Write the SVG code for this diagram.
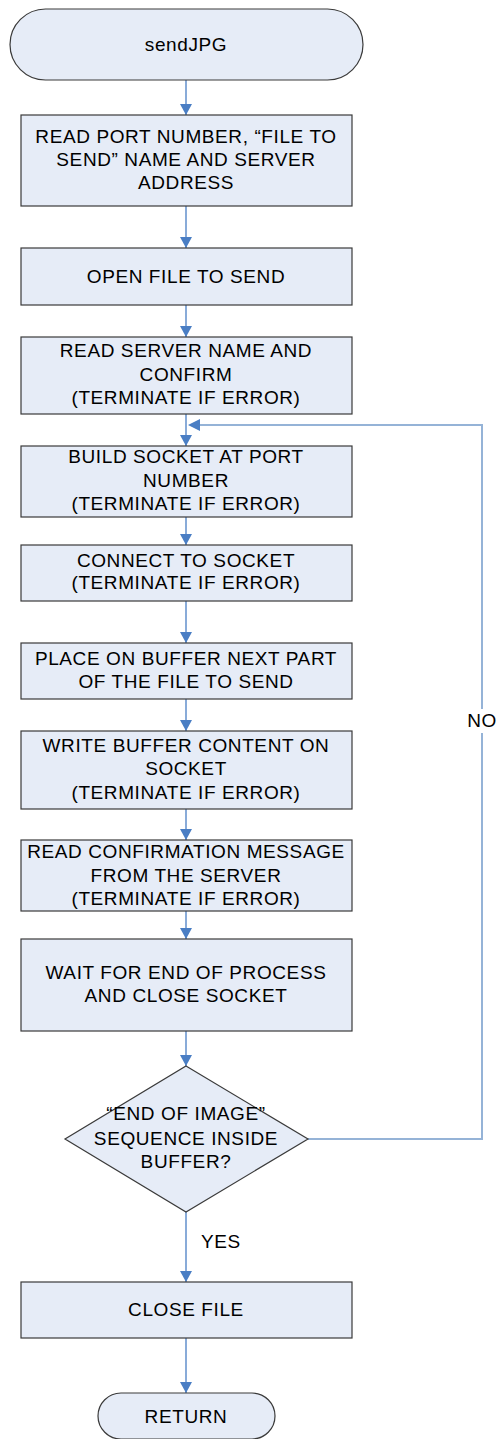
<svg xmlns="http://www.w3.org/2000/svg" width="498" height="1439" viewBox="0 0 498 1439">
  <defs>
    <style>
      .shape { fill: #E6ECF7; stroke: #3A3A3A; stroke-width: 1.2; }
      .label { font-family: "Liberation Sans", Arial, sans-serif; font-size: 19px; letter-spacing: 0.6px; fill: #000; text-anchor: middle; }
      .flow { stroke: #4A7EC4; stroke-width: 1.3; fill: none; }
      .loop { stroke: #95B3D7; stroke-width: 2; fill: none; }
      .head { fill: #4A7EC4; }
    </style>
    <marker id="arrow" markerWidth="12" markerHeight="12" refX="11" refY="6" orient="auto" markerUnits="userSpaceOnUse">
      <path d="M0,0 L11,6 L0,12 Z" class="head"/>
    </marker>
  </defs>
  <rect width="498" height="1439" fill="#FFFFFF"/>

  <!-- connectors -->
  <g id="connectors">
    <line class="flow" x1="186" y1="80" x2="186" y2="115" marker-end="url(#arrow)"/>
    <line class="flow" x1="186" y1="206" x2="186" y2="248" marker-end="url(#arrow)"/>
    <line class="flow" x1="186" y1="305" x2="186" y2="337" marker-end="url(#arrow)"/>
    <line class="flow" x1="186" y1="414" x2="186" y2="446" marker-end="url(#arrow)"/>
    <line class="flow" x1="186" y1="517" x2="186" y2="545" marker-end="url(#arrow)"/>
    <line class="flow" x1="186" y1="601" x2="186" y2="643" marker-end="url(#arrow)"/>
    <line class="flow" x1="186" y1="699" x2="186" y2="731" marker-end="url(#arrow)"/>
    <line class="flow" x1="186" y1="809" x2="186" y2="840" marker-end="url(#arrow)"/>
    <line class="flow" x1="186" y1="911" x2="186" y2="939" marker-end="url(#arrow)"/>
    <line class="flow" x1="186" y1="1031" x2="186" y2="1066" marker-end="url(#arrow)"/>
    <line class="flow" x1="186" y1="1212" x2="186" y2="1282" marker-end="url(#arrow)"/>
    <line class="flow" x1="186" y1="1338" x2="186" y2="1393" marker-end="url(#arrow)"/>
    <!-- NO branch loops back above the socket step -->
    <polyline class="loop" points="308,1139 482,1139 482,425 200,425"/>
    <path class="head" d="M188,425 L200,419 L200,431 Z"/>
    <rect x="462" y="709" width="40" height="24" fill="#FFFFFF"/>
    <text class="label" x="482" y="727">NO</text>
    <text class="label" x="221" y="1248">YES</text>
  </g>

  <g id="start">
    <rect class="shape" x="10" y="9" width="353" height="71" rx="35.5"/>
    <text class="label" x="186" y="51">sendJPG</text>
  </g>

  <g id="read-params">
    <rect class="shape" x="21" y="115" width="331" height="91"/>
    <text class="label" x="186" y="143">READ PORT NUMBER, “FILE TO</text>
    <text class="label" x="186" y="166">SEND” NAME AND SERVER</text>
    <text class="label" x="186" y="189">ADDRESS</text>
  </g>

  <g id="open-file">
    <rect class="shape" x="21" y="248" width="331" height="57"/>
    <text class="label" x="186" y="283">OPEN FILE TO SEND</text>
  </g>

  <g id="read-server">
    <rect class="shape" x="21" y="337" width="331" height="77"/>
    <text class="label" x="186" y="357">READ SERVER NAME AND</text>
    <text class="label" x="186" y="381">CONFIRM</text>
    <text class="label" x="186" y="404">(TERMINATE IF ERROR)</text>
  </g>

  <g id="build-socket">
    <rect class="shape" x="21" y="446" width="331" height="71"/>
    <text class="label" x="186" y="463">BUILD SOCKET AT PORT</text>
    <text class="label" x="186" y="487">NUMBER</text>
    <text class="label" x="186" y="510">(TERMINATE IF ERROR)</text>
  </g>

  <g id="connect-socket">
    <rect class="shape" x="21" y="545" width="331" height="56"/>
    <text class="label" x="186" y="567">CONNECT TO SOCKET</text>
    <text class="label" x="186" y="589">(TERMINATE IF ERROR)</text>
  </g>

  <g id="fill-buffer">
    <rect class="shape" x="21" y="643" width="331" height="56"/>
    <text class="label" x="186" y="665">PLACE ON BUFFER NEXT PART</text>
    <text class="label" x="186" y="688">OF THE FILE TO SEND</text>
  </g>

  <g id="write-buffer">
    <rect class="shape" x="21" y="731" width="331" height="78"/>
    <text class="label" x="186" y="752">WRITE BUFFER CONTENT ON</text>
    <text class="label" x="186" y="775">SOCKET</text>
    <text class="label" x="186" y="799">(TERMINATE IF ERROR)</text>
  </g>

  <g id="read-confirmation">
    <rect class="shape" x="21" y="840" width="331" height="71"/>
    <text class="label" x="186" y="858">READ CONFIRMATION MESSAGE</text>
    <text class="label" x="186" y="882">FROM THE SERVER</text>
    <text class="label" x="186" y="905">(TERMINATE IF ERROR)</text>
  </g>

  <g id="close-socket">
    <rect class="shape" x="21" y="939" width="331" height="92"/>
    <text class="label" x="186" y="979">WAIT FOR END OF PROCESS</text>
    <text class="label" x="186" y="1002">AND CLOSE SOCKET</text>
  </g>

  <g id="end-check">
    <polygon class="shape" points="186,1066 308,1139 186,1212 65,1139"/>
    <text class="label" x="186" y="1120">“END OF IMAGE”</text>
    <text class="label" x="186" y="1145">SEQUENCE INSIDE</text>
    <text class="label" x="186" y="1168">BUFFER?</text>
  </g>

  <g id="close-file">
    <rect class="shape" x="21" y="1282" width="331" height="56"/>
    <text class="label" x="186" y="1316">CLOSE FILE</text>
  </g>

  <g id="return">
    <rect class="shape" x="98" y="1393" width="177" height="46" rx="23"/>
    <text class="label" x="186" y="1423">RETURN</text>
  </g>
</svg>
